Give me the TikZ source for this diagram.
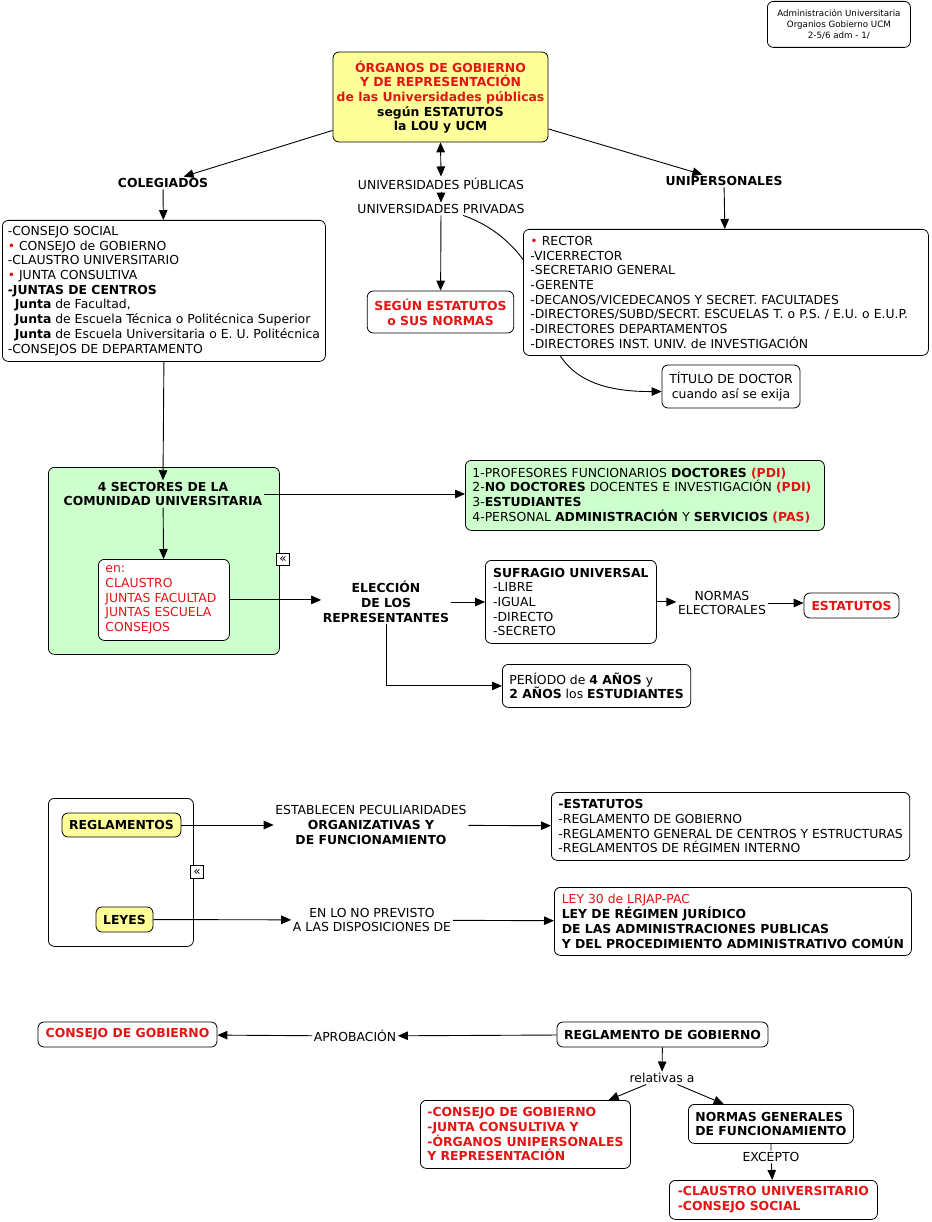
\documentclass[tikz,border=0pt]{standalone}
\usepackage{fontspec}
\setmainfont{DejaVu Sans}
\usepackage{xcolor}
\usepackage{tikz}
\usetikzlibrary{arrows.meta, positioning, calc}
\definecolor{cmred}{RGB}{228,20,20}
\definecolor{cmyellow}{RGB}{255,255,153}
\definecolor{cmgreen}{RGB}{204,255,204}
\tikzstyle{arrow} = [line width=0.9pt, >={Triangle[length=10pt,width=8.5pt]}, ->]
\tikzstyle{link} = [line width=0.9pt]
\tikzstyle{concept} = [rectangle, rounded corners=6pt, draw=black, line width=0.8pt, fill=white, inner xsep=7pt, inner ysep=3pt, align=left]
\tikzstyle{phrase} = [inner sep=1.5pt, align=center]
\tikzstyle{fold} = [draw, line width=0.7pt, fill=white, inner sep=0pt, minimum size=12.5pt, font=\fontsize{12}{12}\selectfont]
\newcommand{\dotred}{{\color{cmred}•}}

\begin{document}
\fontsize{12.4}{14.7}\selectfont
\begin{tikzpicture}[x=1pt, y=-1pt]
    \useasboundingbox (0,0) rectangle (931,1222);

    % Cabecera y concepto principal
    \node[concept, anchor=north west, minimum width=143pt, minimum height=46pt, align=center, font=\fontsize{8.7}{11}\selectfont] (cabecera) at (767,1) {Administración Universitaria\\Organios Gobierno UCM\\2-5/6 adm - 1/};
    \node[concept, fill=cmyellow, minimum width=215pt, minimum height=90pt, inner xsep=2pt, align=center, font=\bfseries] (organos) at (440.5,97) {\textcolor{cmred}{ÓRGANOS DE GOBIERNO}\\\textcolor{cmred}{Y DE REPRESENTACIÓN}\\\textcolor{cmred}{de las Universidades públicas}\\según ESTATUTOS\\la LOU y UCM};

    % Colegiados
    \node[phrase, font=\bfseries] (colegiados) at (163,183) {COLEGIADOS};
    \node[concept, anchor=north west, inner xsep=5pt, minimum width=323pt, minimum height=141pt] (colegbox) at (2,220) {-CONSEJO SOCIAL\\\dotred{} CONSEJO de GOBIERNO\\-CLAUSTRO UNIVERSITARIO\\\dotred{} JUNTA CONSULTIVA\\\textbf{-JUNTAS DE CENTROS}\\\hspace*{7pt}\textbf{Junta} de Facultad,\\\hspace*{7pt}\textbf{Junta} de Escuela Técnica o Politécnica Superior\\\hspace*{7pt}\textbf{Junta} de Escuela Universitaria o E. U. Politécnica\\-CONSEJOS DE DEPARTAMENTO};

    % Universidades
    \node[phrase] (publicas) at (441,184) {UNIVERSIDADES PÚBLICAS};
    \node[phrase] (privadas) at (441,209) {UNIVERSIDADES PRIVADAS};
    \node[concept, minimum width=145pt, minimum height=42pt, align=center, font=\bfseries, text=cmred] (segun) at (440.5,312) {SEGÚN ESTATUTOS\\o SUS NORMAS};

    % Unipersonales
    \node[phrase, font=\bfseries] (unipersonales) at (724,181) {UNIPERSONALES};
    \node[concept, minimum width=138pt, minimum height=43pt, align=center] (titulo) at (731,386.5) {TÍTULO DE DOCTOR\\cuando así se exija};
    \draw[arrow] ([xshift=22pt]privadas.south) .. controls (500,228) and (535,260) .. (545,310) .. controls (552,360) and (575,392) .. ([yshift=-5pt]titulo.west);
    \node[concept, anchor=north west, text width=391pt, minimum height=126pt] (unibox) at (523,229) {\dotred{} RECTOR\\-VICERRECTOR\\-SECRETARIO GENERAL\\-GERENTE\\-DECANOS/VICEDECANOS Y SECRET. FACULTADES\\-DIRECTORES/SUBD/SECRT. ESCUELAS T. o P.S. / E.U. o E.U.P.\\-DIRECTORES DEPARTAMENTOS\\-DIRECTORES INST. UNIV. de INVESTIGACIÓN};

    % Sectores
    \node[concept, fill=cmgreen, anchor=north west, minimum width=231pt, minimum height=187pt] (sectores) at (48,467) {};
    \node[phrase, font=\bfseries] (sect) at (163,494) {4 SECTORES DE LA\\COMUNIDAD UNIVERSITARIA};
    \node[concept, anchor=north west, text width=117pt, minimum height=81pt, text=cmred] (en) at (98,559) {en:\\CLAUSTRO\\JUNTAS FACULTAD\\JUNTAS ESCUELA\\CONSEJOS};
    \node[fold] (plegar1) at (283,559.5) {«};
    \node[concept, fill=cmgreen, anchor=north west, text width=345pt, minimum height=70pt] (lista) at (465,460) {1-PROFESORES FUNCIONARIOS \textbf{DOCTORES} \textcolor{cmred}{\textbf{(PDI)}}\\2-\textbf{NO DOCTORES} DOCENTES E INVESTIGACIÓN \textcolor{cmred}{\textbf{(PDI)}}\\3-\textbf{ESTUDIANTES}\\4-PERSONAL \textbf{ADMINISTRACIÓN} Y \textbf{SERVICIOS} \textcolor{cmred}{\textbf{(PAS)}}};

    % Eleccion
    \node[phrase, font=\bfseries] (eleccion) at (386,602) {ELECCIÓN\\DE LOS\\REPRESENTANTES};
    \node[concept, anchor=north west, minimum width=171pt, minimum height=83pt] (sufragio) at (485,560) {\textbf{SUFRAGIO UNIVERSAL}\\-LIBRE\\-IGUAL\\-DIRECTO\\-SECRETO};
    \node[phrase] (normas) at (722,603) {NORMAS\\ELECTORALES};
    \node[concept, minimum width=95pt, minimum height=25pt, font=\bfseries, text=cmred] (estatutos) at (851.5,605.5) {ESTATUTOS};
    \node[concept, anchor=north west, minimum width=187pt, minimum height=43pt] (periodo) at (502,664) {PERÍODO de \textbf{4 AÑOS} y\\\textbf{2 AÑOS} los \textbf{ESTUDIANTES}};

    % Reglamentos y leyes
    \node[concept, anchor=north west, minimum width=145pt, minimum height=148pt] (fuentes) at (48,798) {};
    \node[concept, fill=cmyellow, minimum width=117pt, minimum height=24pt, font=\bfseries] (reglamentos) at (121.5,825) {REGLAMENTOS};
    \node[concept, fill=cmyellow, minimum width=57pt, minimum height=25pt, font=\bfseries] (leyes) at (124.5,919.5) {LEYES};
    \node[fold] (plegar2) at (197,872) {«};
    \node[phrase] (peculiar) at (371,825) {ESTABLECEN PECULIARIDADES\\\textbf{ORGANIZATIVAS Y}\\\textbf{DE FUNCIONAMIENTO}};
    \node[concept, anchor=north west, minimum width=355pt, minimum height=68pt] (normativa) at (551,792) {\textbf{-ESTATUTOS}\\-REGLAMENTO DE GOBIERNO\\-REGLAMENTO GENERAL DE CENTROS Y ESTRUCTURAS\\-REGLAMENTOS DE RÉGIMEN INTERNO};
    \node[phrase] (previsto) at (372,920) {EN LO NO PREVISTO\\A LAS DISPOSICIONES DE};
    \node[concept, anchor=north west, minimum width=357pt, minimum height=68pt] (lrjap) at (554,887) {\textcolor{cmred}{LEY 30 de LRJAP-PAC}\\\textbf{LEY DE RÉGIMEN JURÍDICO}\\\textbf{DE LAS ADMINISTRACIONES PUBLICAS}\\\textbf{Y DEL PROCEDIMIENTO ADMINISTRATIVO COMÚN}};

    % Reglamento de gobierno
    \node[concept, minimum width=179pt, minimum height=25pt, font=\bfseries, text=cmred] (consejo) at (127.5,1034.5) {CONSEJO DE GOBIERNO};
    \node[concept, minimum width=209pt, minimum height=25pt, font=\bfseries] (reglgob) at (662.5,1034.5) {REGLAMENTO DE GOBIERNO};
    \node[phrase] (aprobacion) at (355,1036) {APROBACIÓN};
    \node[phrase] (relativas) at (662,1078) {relativas a};
    \node[concept, anchor=north west, minimum width=209pt, minimum height=68pt, font=\bfseries, text=cmred] (organosrel) at (420,1100) {-CONSEJO DE GOBIERNO\\-JUNTA CONSULTIVA Y\\-ÓRGANOS UNIPERSONALES\\Y REPRESENTACIÓN};
    \node[concept, anchor=north west, minimum width=165pt, minimum height=39pt, font=\bfseries] (normgen) at (688,1104) {NORMAS GENERALES\\DE FUNCIONAMIENTO};
    \node[phrase] (excepto) at (771,1157) {EXCEPTO};
    \node[concept, anchor=north west, minimum width=208pt, minimum height=39pt, font=\bfseries, text=cmred] (claustro) at (669,1180) {-CLAUSTRO UNIVERSITARIO\\-CONSEJO SOCIAL};

    % Arrows
    \draw[arrow] (organos) -- (colegiados);
    \draw[arrow] (colegiados) -- (colegbox);
    \draw[arrow] (colegbox.south) -- (sect.north);
    \draw[arrow, <->] (organos.south) -- (publicas.north);
    \draw[arrow] (publicas) -- (privadas);
    \draw[arrow] (privadas) -- (segun);
    \draw[arrow] (organos) -- (unipersonales);
    \draw[arrow] (unipersonales) -- (unibox);
    \draw[arrow] (sect.east) -- (sect.east -| lista.west);
    \draw[arrow] (sect) -- (en);
    \draw[arrow] (en.east) -- (en.east -| eleccion.west);
    \draw[arrow] (eleccion.east) -- (eleccion.east -| sufragio.west);
    \draw[arrow] (sufragio.east) -- (sufragio.east -| normas.west);
    \draw[arrow] (normas.east) -- (normas.east -| estatutos.west);
    \draw[arrow] (eleccion.south) |- (periodo.west);
    \draw[arrow] (reglamentos) -- (peculiar);
    \draw[arrow] (peculiar) -- (normativa);
    \draw[arrow] (leyes) -- (previsto);
    \draw[arrow] (previsto) -- (lrjap);
    \draw[arrow] (reglgob) -- (aprobacion);
    \draw[arrow] (aprobacion) -- (consejo);
    \draw[arrow] (reglgob) -- (relativas);
    \draw[arrow] (relativas) -- (organosrel);
    \draw[arrow] (relativas) -- (normgen);
    \draw[link] (normgen) -- (excepto);
    \draw[arrow] (excepto) -- (claustro);

\end{tikzpicture}
\end{document}
